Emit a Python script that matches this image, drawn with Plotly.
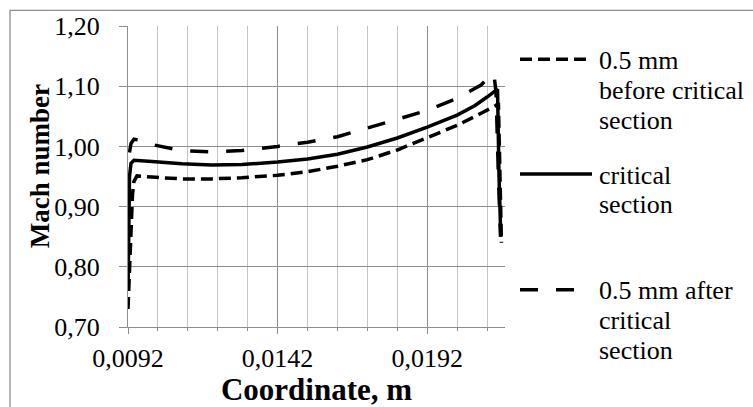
import plotly.graph_objects as go

# ---------------- data ----------------
series_names = ["0.5 mm<br>before critical<br>section",
                "critical<br>section",
                "0.5 mm after<br>critical<br>section"]

x_before = [0.0092, 0.00925, 0.0093, 0.00935, 0.0094, 0.0095, 0.0100, 0.0110, 0.0120,
            0.0130, 0.0142, 0.0152, 0.0162, 0.0172, 0.0182, 0.0192, 0.0202, 0.0210,
            0.0215, 0.02158, 0.02163, 0.02168]
m_before = [0.73, 0.80, 0.87, 0.92, 0.942, 0.951, 0.949, 0.946, 0.946,
            0.948, 0.952, 0.958, 0.967, 0.978, 0.994, 1.014, 1.035, 1.055,
            1.068, 1.072, 0.95, 0.84]

x_critical = [0.0092, 0.00925, 0.0093, 0.0094, 0.0100, 0.0110, 0.0120, 0.0130, 0.0142,
              0.0152, 0.0162, 0.0172, 0.0182, 0.0192, 0.0202, 0.0208, 0.0212, 0.0215,
              0.02155, 0.0216, 0.02166]
m_critical = [0.76, 0.95, 0.972, 0.977, 0.975, 0.971, 0.969, 0.970, 0.974,
              0.979, 0.987, 0.999, 1.014, 1.032, 1.052, 1.068, 1.082, 1.093,
              1.095, 0.95, 0.85]

x_after = [0.00925, 0.0093, 0.0094, 0.0096, 0.0100, 0.0110, 0.0120, 0.0130, 0.0142,
           0.0152, 0.0162, 0.0172, 0.0182, 0.0192, 0.0202, 0.0210, 0.0213, 0.02143,
           0.0215, 0.02158, 0.02165]
m_after = [0.99, 1.005, 1.012, 1.010, 1.003, 0.993, 0.991, 0.993, 1.000,
           1.007, 1.016, 1.030, 1.045, 1.060, 1.080, 1.102, 1.117, 1.120,
           1.09, 0.95, 0.85]

x_ticks_start = 0.0092
x_range = [0.0092, 0.0218]
y_range = [0.70, 1.20]

# ---------------- styling ----------------
FONT = "Liberation Serif, Times New Roman, serif"
dashes = ["12px,6px", "solid", "18px,18px"]
LW = 3.5
GRID_MAJOR = "#8e8e8e"
GRID_MINOR = "#c4c4c4"

fig = go.Figure()
for xs, ys, name, d in zip([x_before, x_critical, x_after],
                           [m_before, m_critical, m_after],
                           series_names, dashes):
    fig.add_trace(go.Scatter(x=xs, y=ys, mode="lines", name=name,
                             line=dict(color="black", width=LW, dash=d),
                             showlegend=False, cliponaxis=False))

L, T, R, B = 128, 25, 505, 332
W, H = 753, 407

def px_x(px):
    return (px - L) / (R - L)

def px_y(py):
    return (B - py) / (B - T)

shapes = [dict(type="rect", xref="paper", yref="paper",
               x0=px_x(10), x1=px_x(800), y0=px_y(450), y1=px_y(9),
               line=dict(color="#8e8e8e", width=1.3), layer="below")]
annotations = []
item_y = [59, 176, 294]
for i, (name, d) in enumerate(zip(series_names, dashes)):
    shapes.append(dict(type="line", xref="paper", yref="paper",
                       x0=px_x(520), x1=px_x(592), y0=px_y(item_y[i]), y1=px_y(item_y[i]),
                       line=dict(color="black", width=LW, dash=d)))
    for j, line in enumerate(name.split("<br>")):
        annotations.append(dict(xref="paper", yref="paper", x=px_x(597),
                                y=px_y(item_y[i] + 1 + j * 30.5),
                                xanchor="left", yanchor="middle", showarrow=False,
                                text=line, font=dict(family=FONT, size=26, color="black")))

# y-axis title as annotation for exact placement
annotations.append(dict(xref="paper", yref="paper", x=px_x(40), y=px_y(168),
                        xanchor="center", yanchor="middle", showarrow=False, textangle=-90,
                        text="<b>Mach number</b>",
                        font=dict(family=FONT, size=27, color="black")))

fig.update_layout(
    width=W, height=H,
    margin=dict(l=L, r=W - R, t=T, b=H - B),
    paper_bgcolor="white", plot_bgcolor="white",
    separators=", ",
    font=dict(family=FONT, size=26, color="black"),
    shapes=shapes, annotations=annotations,
    showlegend=False,
)
fig.update_xaxes(
    range=x_range, tick0=x_ticks_start, dtick=0.005, tickformat=".4f",
    showgrid=True, gridcolor=GRID_MAJOR, gridwidth=1.3,
    showline=True, linecolor=GRID_MAJOR, linewidth=1.3,
    ticks="outside", ticklen=6, tickcolor=GRID_MAJOR, tickwidth=1.3,
    zeroline=False, ticklabelstandoff=2,
    minor=dict(tick0=x_ticks_start, dtick=0.001, showgrid=True, gridcolor=GRID_MINOR,
               gridwidth=1.3, ticks="outside", ticklen=3, tickcolor=GRID_MAJOR),
    tickfont=dict(family=FONT, size=26, color="black"),
    title=dict(text="<b>Coordinate, m</b>", font=dict(family=FONT, size=31, color="black"),
               standoff=0),
)
fig.update_yaxes(
    range=y_range, dtick=0.1, tick0=0.7, tickformat=".2f",
    showgrid=True, gridcolor=GRID_MAJOR, gridwidth=1.3,
    showline=True, linecolor=GRID_MAJOR, linewidth=1.3,
    ticks="outside", ticklen=8, tickcolor=GRID_MAJOR, tickwidth=1.3,
    zeroline=False, ticklabelstandoff=14,
    tickfont=dict(family=FONT, size=26, color="black"),
)

fig.write_html("out.html")
